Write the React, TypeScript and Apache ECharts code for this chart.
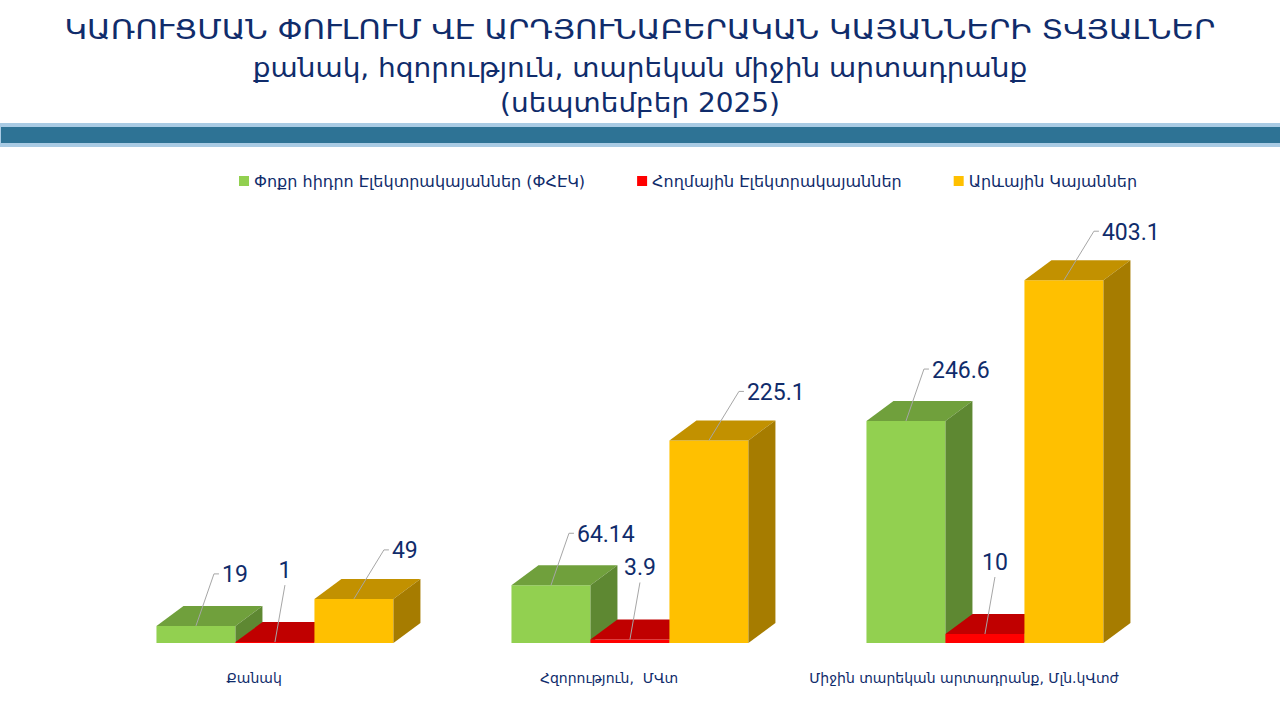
import React, { useEffect, useRef } from "react";
import * as echarts from "echarts";

const titleLines = [
  "ԿԱՌՈՒՑՄԱՆ ՓՈՒԼՈՒՄ ՎԷ ԱՐԴՅՈՒՆԱԲԵՐԱԿԱՆ ԿԱՅԱՆՆԵՐԻ ՏՎՅԱԼՆԵՐ",
  "քանակ, հզորություն, տարեկան միջին արտադրանք",
  "(սեպտեմբեր 2025)",
];
const categories = ["Քանակ", "Հզորություն,  ՄՎտ", "Միջին տարեկան արտադրանք, Մլն.կՎտժ"];
const seriesNames = [
  "Փոքր հիդրո Էլեկտրակայաններ (ՓՀԷԿ)",
  "Հողմային Էլեկտրակայաններ",
  "Արևային Կայաններ",
];
const hydroValues = [19, 64.14, 246.6];
const windValues = [1, 3.9, 10];
const solarValues = [49, 225.1, 403.1];

const NAVY = "#102C6B";
const ARM_FONT = "'DejaVu Sans', sans-serif";

const palettes = [
  { front: "#92D050", top: "#70A03C", side: "#5E8832" },
  { front: "#FF0000", top: "#C00000", side: "#A00000" },
  { front: "#FFC000", top: "#C29100", side: "#A67C00" },
];
const labelRules = [
  { dx: 18, dy: -52, above: false },
  { dx: 10, dy: -57, above: true },
  { dx: 30, dy: -49, above: false },
];

function makeRender(si: number) {
  return (params: any, api: any) => {
    const ci = api.value(0);
    const v = api.value(1);
    const base = api.coord([ci, 0]);
    const topPt = api.coord([ci, v]);
    const band = api.size([1, 0])[0];
    const bw = band * 0.2225;
    const center = base[0] + band * 0.059;
    const x0 = center - 1.5 * bw + si * bw;
    const x1 = x0 + bw;
    const yb = base[1];
    const yt = topPt[1];
    const dx = 27;
    const dy = -20;
    const p = palettes[si];
    const children: any[] = [
      { type: "polygon", shape: { points: [[x0, yt], [x1, yt], [x1, yb], [x0, yb]] }, style: { fill: p.front } },
      { type: "polygon", shape: { points: [[x0, yt], [x0 + dx, yt + dy], [x1 + dx, yt + dy], [x1, yt]] }, style: { fill: p.top } },
      { type: "polygon", shape: { points: [[x1, yt], [x1 + dx, yt + dy], [x1 + dx, yb + dy], [x1, yb]] }, style: { fill: p.side } },
    ];
    const r = labelRules[si];
    const sx = (x0 + x1) / 2;
    const sy = yt;
    const ex = sx + r.dx;
    const ey = sy + r.dy;
    const font = "23px Roboto, 'Liberation Sans', sans-serif";
    if (r.above) {
      children.push({ type: "polyline", shape: { points: [[sx, sy], [ex, ey]] }, style: { stroke: "#A6A6A6", lineWidth: 1, fill: null } });
      children.push({ type: "text", style: { text: String(v), x: ex, y: ey - 3, align: "center", verticalAlign: "bottom", fill: NAVY, font } });
    } else {
      children.push({ type: "polyline", shape: { points: [[sx, sy], [ex, ey], [ex + 5, ey]] }, style: { stroke: "#A6A6A6", lineWidth: 1, fill: null } });
      children.push({ type: "text", style: { text: String(v), x: ex + 8, y: ey + 1, align: "left", verticalAlign: "middle", fill: NAVY, font } });
    }
    return { type: "group", children };
  };
}

export default function App() {
  const ref = useRef<HTMLDivElement>(null);
  useEffect(() => {
    if (!ref.current) return;
    const chart = echarts.init(ref.current, null, { renderer: "svg" });
    const allValues = [hydroValues, windValues, solarValues];
    const titleY = [30, 68, 103];
    const titleScale = [1.143, 1.035, 1.034];
    chart.setOption({
      animation: false,
      backgroundColor: "#FFFFFF",
      graphic: [
        { type: "rect", left: 0, top: 123, shape: { width: 1280, height: 24 }, style: { fill: "#A9CBE4" }, z: 1 },
        { type: "rect", left: 1, top: 127, shape: { width: 1279, height: 16 }, style: { fill: "#2E7395" }, z: 2 },
        ...titleLines.map((t, i) => ({
          type: "text",
          x: 640,
          y: titleY[i],
          scaleX: titleScale[i],
          style: { text: t, x: 0, y: 0, align: "center", verticalAlign: "middle", font: `27px ${ARM_FONT}`, fill: NAVY },
        })),
      ],
      legend: {
        data: seriesNames,
        left: 234,
        top: 168,
        icon: "rect",
        itemWidth: 10,
        itemHeight: 10,
        itemGap: 52,
        textStyle: { color: NAVY, fontSize: 16, fontFamily: ARM_FONT },
      },
      grid: { left: 76.5, right: 138.5, top: 238, bottom: 77 },
      xAxis: {
        type: "category",
        data: categories,
        axisLine: { show: false },
        axisTick: { show: false },
        axisLabel: { interval: 0, margin: 28, fontSize: 14, color: NAVY, fontFamily: ARM_FONT },
      },
      yAxis: { type: "value", min: 0, max: 450, show: false },
      series: allValues.map((vals, si) => ({
        type: "custom",
        name: seriesNames[si],
        renderItem: makeRender(si),
        clip: false,
        itemStyle: { color: palettes[si].front },
        encode: { x: 0, y: 1 },
        data: vals.map((v, i) => [i, v]),
        z: 2 + si,
      })),
    });
    return () => chart.dispose();
  }, []);
  return (
    <div
      ref={ref}
      style={{ position: "fixed", left: 0, top: 0, width: 1280, height: 720, background: "#fff" }}
    />
  );
}
